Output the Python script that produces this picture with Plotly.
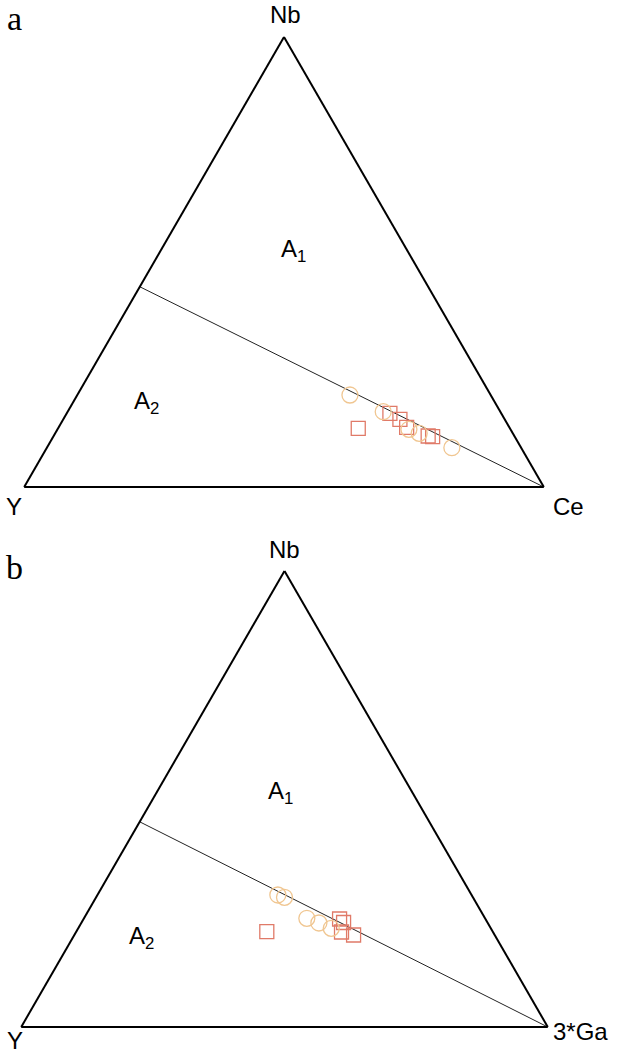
import plotly.graph_objects as go

W, H = 617, 1053

# ---- Data (ternary fractions) ----
# Diagram a: Nb - Y - Ce
a_circ_nb = [0.2044, 0.1673, 0.1282, 0.1193, 0.0873]
a_circ_y  = [0.2709, 0.2254, 0.1955, 0.1802, 0.1333]
a_circ_ce = [0.5247, 0.6073, 0.6763, 0.7005, 0.7794]

a_sq_nb = [0.1304, 0.1638, 0.1504, 0.1327, 0.1133, 0.1118]
a_sq_y  = [0.2919, 0.2143, 0.2017, 0.1976, 0.1659, 0.1581]
a_sq_ce = [0.5777, 0.6219, 0.6479, 0.6697, 0.7208, 0.7301]

# Diagram b: Nb - Y - 3*Ga
b_circ_nb = [0.2895, 0.2844, 0.2384, 0.2281, 0.2164]
b_circ_y  = [0.3679, 0.3578, 0.3384, 0.3206, 0.3030]
b_circ_ga = [0.3426, 0.3578, 0.4232, 0.4512, 0.4806]

b_sq_nb = [0.2090, 0.2368, 0.2292, 0.2083, 0.2018]
b_sq_y  = [0.4291, 0.2770, 0.2732, 0.2876, 0.2679]
b_sq_ga = [0.3619, 0.4862, 0.4976, 0.5042, 0.5303]

# Field boundary lines (A1 / A2)
a_div_nb, a_div_y, a_div_ce = [0.445, 0.0], [0.555, 0.0], [0.0, 1.0]
b_div_nb, b_div_y, b_div_ga = [0.45, 0.0], [0.55, 0.0], [0.0, 1.0]

CIRC_COLOR = "rgb(240,198,145)"
SQ_COLOR = "rgb(224,122,104)"

fig = go.Figure()

def add_set(sub, nb, y, z, symbol, color, size):
    fig.add_trace(go.Scatterternary(
        a=nb, b=y, c=z, mode="markers", subplot=sub, showlegend=False,
        marker=dict(symbol=symbol, size=size, color=color,
                    line=dict(color=color, width=1.3))))

def add_line(sub, nb, y, z):
    fig.add_trace(go.Scatterternary(
        a=nb, b=y, c=z, mode="lines", subplot=sub, showlegend=False,
        line=dict(color="#222222", width=1)))

add_line("ternary", a_div_nb, a_div_y, a_div_ce)
add_set("ternary", a_sq_nb, a_sq_y, a_sq_ce, "square-open", SQ_COLOR, 14)
add_set("ternary", a_circ_nb, a_circ_y, a_circ_ce, "circle-open", CIRC_COLOR, 16)

add_line("ternary2", b_div_nb, b_div_y, b_div_ga)
add_set("ternary2", b_sq_nb, b_sq_y, b_sq_ga, "square-open", SQ_COLOR, 14)
add_set("ternary2", b_circ_nb, b_circ_y, b_circ_ga, "circle-open", CIRC_COLOR, 16)

axis_style = dict(showgrid=False, showticklabels=False, ticks="", linecolor="black",
                  linewidth=2, title=dict(text=""), min=0)

def tern(xd, yd):
    return dict(domain=dict(x=xd, y=yd), bgcolor="white", sum=1,
                aaxis=axis_style, baxis=axis_style, caxis=axis_style)

fig.update_layout(
    width=W, height=H, margin=dict(l=0, r=0, t=0, b=0),
    paper_bgcolor="white", plot_bgcolor="white",
    ternary=tern([24 / W, 544 / W], [1 - 487 / H, 1 - 37 / H]),
    ternary2=tern([21 / W, 548 / W], [1 - 1027 / H, 1 - 571 / H]),
)

SANS = "Liberation Sans, Arial, sans-serif"
SERIF = "Liberation Serif, Times New Roman, serif"

def ann(text, px, py, size=24, family=SANS):
    fig.add_annotation(text=text, x=px / W, y=1 - py / H, xref="paper", yref="paper",
                       showarrow=False, xanchor="center", yanchor="middle",
                       font=dict(family=family, size=size, color="black"))

ann("a", 14, 18, 34, SERIF)
ann("Nb", 285, 15)
ann("Y", 14, 506)
ann("Ce", 568, 506)
ann("A<sub>1</sub>", 293, 250)
ann("A<sub>2</sub>", 146, 403)

ann("b", 14, 567, 34, SERIF)
ann("Nb", 284, 549)
ann("Y", 15, 1040)
ann("3*Ga", 580, 1031)
ann("A<sub>1</sub>", 280, 792)
ann("A<sub>2</sub>", 141, 937)

fig.write_html("out.html", config={"displayModeBar": False},
               post_script="document.body.style.margin='0px';")
